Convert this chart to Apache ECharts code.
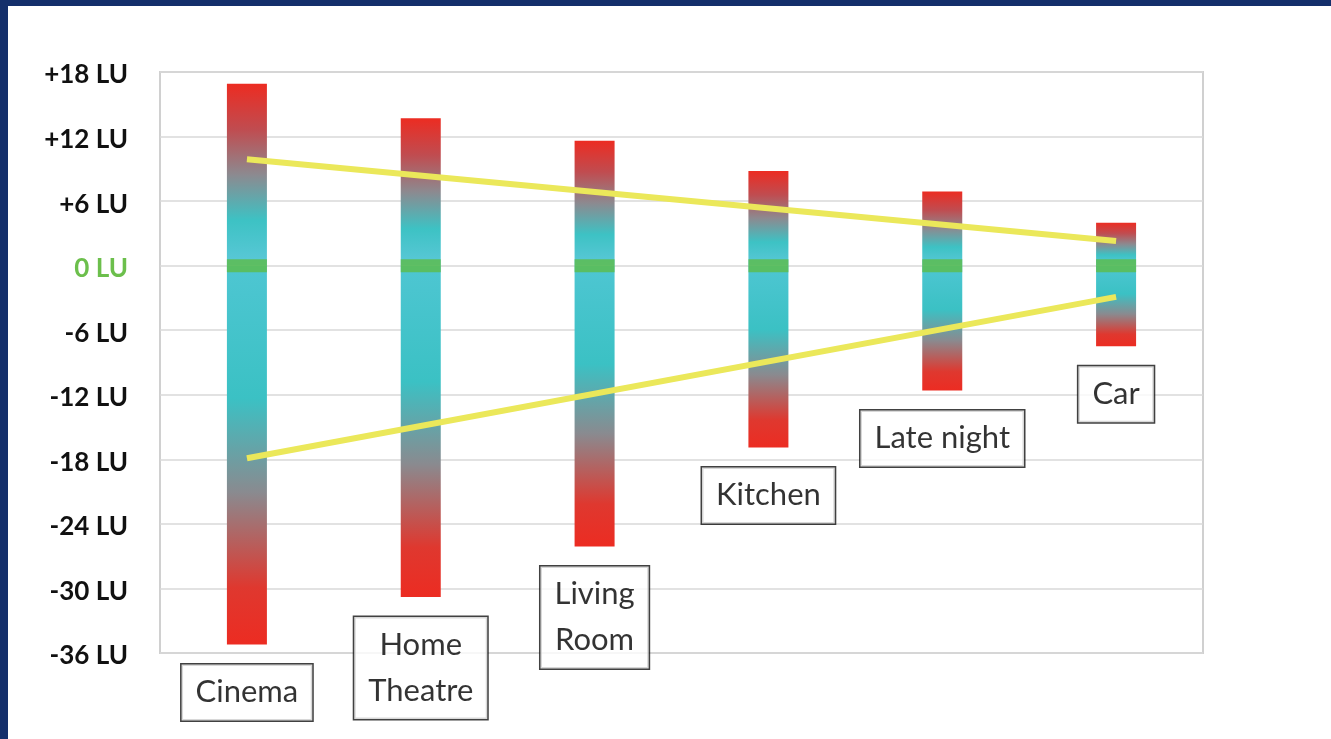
<!DOCTYPE html>
<html>
<head>
<meta charset="utf-8">
<script src="https://cdn.jsdelivr.net/npm/echarts@6/dist/echarts.min.js"></script>
<style>
	html, body {
		margin: 0;
		padding: 0;
		width: 1331px;
		height: 739px;
		background: #142f6b;
		overflow: hidden;
	}
	#chart {
		position: absolute;
		left: 8px;
		top: 6px;
		width: 1323px;
		height: 733px;
		background: #fff;
	}
</style>
</head>
<body>
<div id="chart"></div>
<script>
// 场景
const categories = ['Cinema', 'Home\nTheatre', 'Living\nRoom', 'Kitchen', 'Late night', 'Car'];
// 上沿 / 下沿 (LU)
const upperRange = [16.9, 13.7, 11.6, 8.8, 6.9, 4.0];
const lowerRange = [-35.2, -30.8, -26.1, -16.9, -11.6, -7.5];
// 黄线 (只取两端)
const upperTrend = [9.9, null, null, null, null, 2.3];
const lowerTrend = [-17.9, null, null, null, null, -2.9];
// 0 LU 参考
const zeroMark = [0, 0, 0, 0, 0, 0];
const yTicks = { min: -36, max: 18, step: 6 };

let myChart = echarts.init(document.getElementById('chart'));

const topGrad = new echarts.graphic.LinearGradient(0, 0, 0, 1, [
	{ offset: 0, color: '#ec2c22' },
	{ offset: 0.25, color: '#c04c50' },
	{ offset: 0.5, color: '#8c8a90' },
	{ offset: 0.75, color: '#3dc2c4' },
	{ offset: 1, color: '#5cc8d8' }
]);
const bottomGrad = new echarts.graphic.LinearGradient(0, 0, 0, 1, [
	{ offset: 0, color: '#4ec6d2' },
	{ offset: 0.35, color: '#3bc1c4' },
	{ offset: 0.6, color: '#8a8a8f' },
	{ offset: 0.85, color: '#df382f' },
	{ offset: 1, color: '#ec2c22' }
]);

myChart.setOption({
	animation: false,
	grid: {
		left: 152,
		top: 66,
		right: 128,
		bottom: 86,
		show: true,
		borderColor: '#d0d0d0',
		borderWidth: 2
	},
	xAxis: {
		type: 'category',
		data: categories,
		axisLine: { show: false },
		axisTick: { show: false },
		axisLabel: { show: false }
	},
	yAxis: {
		type: 'value',
		min: yTicks.min,
		max: yTicks.max,
		interval: yTicks.step,
		axisLine: { show: false },
		axisTick: { show: false },
		splitLine: { lineStyle: { color: '#d9d9d9', width: 1.5 } },
		axisLabel: {
			margin: 32,
			fontFamily: 'Lato',
			fontWeight: 'bold',
			fontSize: 26,
			color: '#111',
			padding: [6, 0, 0, 0],
			formatter: function(v) {
				if (v === 0) return '{z|0 LU}';
				return (v > 0 ? '+' + v : v) + ' LU';
			},
			rich: {
				z: { color: '#6cbf4c', fontFamily: 'Lato', fontWeight: 'bold', fontSize: 26 }
			}
		}
	},
	series: [
		{
			name: 'up',
			type: 'bar',
			stack: 'range',
			barWidth: 40,
			data: upperRange,
			itemStyle: { color: topGrad }
		},
		{
			name: 'down',
			type: 'bar',
			stack: 'range',
			barWidth: 40,
			data: lowerRange,
			itemStyle: { color: bottomGrad }
		},
		{
			name: 'zero',
			type: 'scatter',
			symbol: 'rect',
			symbolSize: [40, 13],
			data: zeroMark,
			itemStyle: { color: '#5dbb47' },
			z: 5
		},
		{
			name: 'upperTrend',
			type: 'line',
			data: upperTrend,
			connectNulls: true,
			showSymbol: false,
			lineStyle: { color: '#ebe85a', width: 6 },
			z: 6
		},
		{
			name: 'lowerTrend',
			type: 'line',
			data: lowerTrend,
			connectNulls: true,
			showSymbol: false,
			lineStyle: { color: '#ebe85a', width: 6 },
			z: 6
		},
		{
			// 场景名称框
			name: 'labels',
			type: 'scatter',
			symbolSize: 0,
			data: lowerRange,
			z: 7,
			label: {
				show: true,
				position: 'bottom',
				distance: 20,
				formatter: function(p) {
					return categories[p.dataIndex];
				},
				fontFamily: 'Lato',
				fontSize: 31,
				lineHeight: 46,
				color: '#000',
				backgroundColor: '#fff',
				borderColor: '#111',
				borderWidth: 1.5,
				padding: [5, 14, 5, 14],
				align: 'center'
			}
		}
	]
});
</script>
</body>
</html>
